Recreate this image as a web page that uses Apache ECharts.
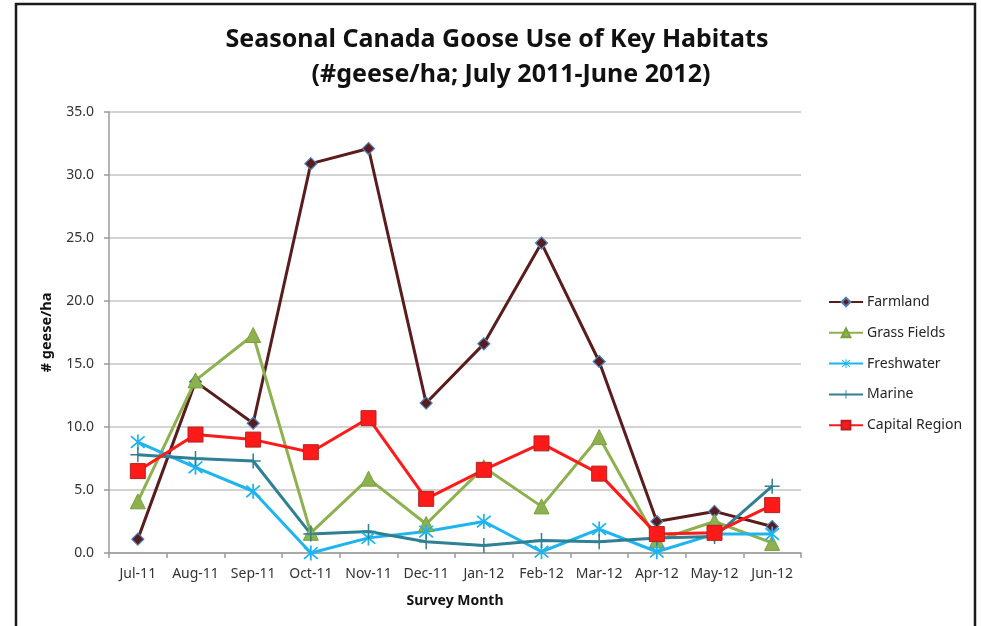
<!DOCTYPE html>
<html>
<head>
<meta charset="utf-8">
<script src="https://cdn.jsdelivr.net/npm/echarts@6/dist/echarts.min.js"></script>
<style>
  html, body { margin: 0; padding: 0; background: #ffffff; }
  #chart { width: 981px; height: 626px; }
</style>
</head>
<body>
<div id="chart"></div>
<script>
// Survey months (x-axis categories)
var months = ['Jul-11', 'Aug-11', 'Sep-11', 'Oct-11', 'Nov-11', 'Dec-11',
              'Jan-12', 'Feb-12', 'Mar-12', 'Apr-12', 'May-12', 'Jun-12'];

// Goose density (#geese/ha) per habitat
var farmland      = [1.1, 13.6, 10.3, 30.9, 32.1, 11.9, 16.6, 24.6, 15.2, 2.5, 3.3, 2.1];
var grassFields   = [4.1, 13.7, 17.3, 1.6, 5.9, 2.3, 6.8, 3.7, 9.2, 1.0, 2.5, 0.8];
var freshwater    = [8.8, 6.8, 4.9, 0.0, 1.2, 1.7, 2.5, 0.1, 1.9, 0.1, 1.5, 1.5];
var marine        = [7.8, 7.5, 7.3, 1.5, 1.7, 0.9, 0.6, 1.0, 0.9, 1.2, 1.3, 5.3];
var capitalRegion = [6.5, 9.4, 9.0, 8.0, 10.7, 4.3, 6.6, 8.7, 6.3, 1.5, 1.6, 3.8];

// Y-axis tick values
var yTicks = [0, 5, 10, 15, 20, 25, 30, 35];

var FONT = "'Noto Sans', sans-serif";

// Marker shapes
var asterisk = 'path://M9 0 L11 0 L11 20 L9 20 Z M1.5 3 L3 1.5 L18.5 17 L17 18.5 Z M17 1.5 L18.5 3 L3 18.5 L1.5 17 Z';
var plus = 'path://M9 0 L11 0 L11 20 L9 20 Z M0 9 L20 9 L20 11 L0 11 Z';

function lineSeries(name, data, color, symbol, size, marker) {
  return {
    name: name,
    type: 'line',
    data: data,
    symbol: symbol,
    symbolSize: size,
    showAllSymbol: true,
    lineStyle: { color: color, width: 3 },
    itemStyle: marker,
    emphasis: { disabled: true },
    z: 2
  };
}

var chart = echarts.init(document.getElementById('chart'), null, { renderer: 'canvas' });

chart.setOption({
  animation: false,
  backgroundColor: '#ffffff',
  graphic: [
    {
      type: 'polyline',
      shape: { points: [[16, 640], [16, 4], [975, 4], [975, 640]] },
      style: { stroke: '#1a1a1a', lineWidth: 2.5, fill: null },
      silent: true
    },
    {
      type: 'text',
      x: 497, y: 40,
      style: {
        text: 'Seasonal Canada Goose Use of Key Habitats',
        font: 'bold 25px ' + FONT,
        fill: '#111111',
        align: 'center',
        verticalAlign: 'middle'
      }
    },
    {
      type: 'text',
      x: 511, y: 75,
      style: {
        text: '(#geese/ha; July 2011-June 2012)',
        font: 'bold 25px ' + FONT,
        fill: '#111111',
        align: 'center',
        verticalAlign: 'middle'
      }
    }
  ],
  grid: { left: 109, right: 180, top: 112, bottom: 73, containLabel: false },
  legend: {
    orient: 'vertical',
    left: 823,
    top: 290,
    itemWidth: 34,
    itemHeight: 11,
    itemGap: 16.8,
    textStyle: { fontFamily: FONT, fontSize: 14, color: '#262626', padding: [0, 0, 0, -1] },
    data: ['Farmland', 'Grass Fields', 'Freshwater', 'Marine', 'Capital Region']
  },
  xAxis: {
    type: 'category',
    data: months,
    boundaryGap: true,
    name: 'Survey Month',
    nameLocation: 'middle',
    nameGap: 41,
    nameTextStyle: { fontFamily: FONT, fontSize: 14, fontWeight: 'bold', color: '#111111' },
    axisLine: { lineStyle: { color: '#9a9a9a', width: 1.5 } },
    axisTick: { show: true, interval: 0, length: 5, lineStyle: { color: '#9a9a9a', width: 1.5 } },
    axisLabel: { interval: 0, margin: 14, fontFamily: FONT, fontSize: 14, color: '#333333' },
    splitLine: { show: false }
  },
  yAxis: {
    type: 'value',
    min: yTicks[0],
    max: yTicks[yTicks.length - 1],
    interval: yTicks[1] - yTicks[0],
    name: '# geese/ha',
    nameLocation: 'middle',
    nameGap: 55,
    nameRotate: 90,
    nameTextStyle: { fontFamily: FONT, fontSize: 14.5, fontWeight: 'bold', color: '#111111' },
    axisLine: { show: true, lineStyle: { color: '#9a9a9a', width: 1.5 } },
    axisTick: { show: true, length: 5, lineStyle: { color: '#9a9a9a', width: 1.5 } },
    axisLabel: {
      margin: 15,
      fontFamily: FONT, fontSize: 14, color: '#333333',
      formatter: function (v) { return v.toFixed(1); }
    },
    splitLine: { show: true, lineStyle: { color: '#c4c4c4', width: 1.5 } }
  },
  series: [
    lineSeries('Farmland', farmland, '#5a1c1c', 'diamond', 12,
      { color: '#5a1c1c', borderColor: '#4f81bd', borderWidth: 1.2 }),
    lineSeries('Grass Fields', grassFields, '#8db14e', 'triangle', 15,
      { color: '#8db14e', borderColor: '#7aa03e', borderWidth: 1 }),
    lineSeries('Freshwater', freshwater, '#1db4ef', asterisk, 15,
      { color: '#1db4ef', borderWidth: 0 }),
    lineSeries('Marine', marine, '#2f7f95', plus, 15,
      { color: '#2f7f95', borderWidth: 0 }),
    lineSeries('Capital Region', capitalRegion, '#ff1a1a', 'rect', 15,
      { color: '#ff1a1a', borderColor: '#b22222', borderWidth: 1 })
  ]
});
</script>
</body>
</html>
